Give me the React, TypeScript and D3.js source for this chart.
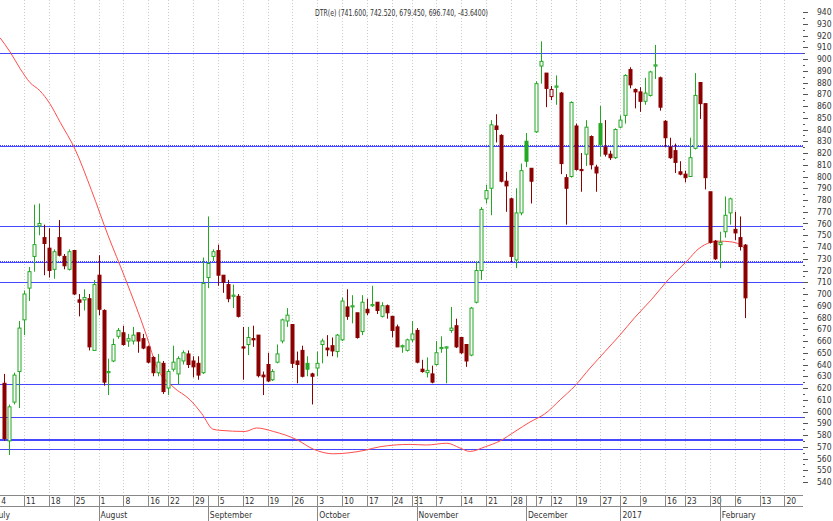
import React from "react";
import * as d3 from "d3";

// OHLC values, one per trading day (index 0 = first candle on the left)
const opens = [
  624, 575, 608, 634, 678, 705, 732, 758, 748, 739, 721, 748, 732, 721, 737, 695, 695, 696, 652, 716,
  686, 633, 643, 664, 667, 660, 660, 667, 662, 655, 646, 633, 641, 620, 636, 632, 643, 649, 643, 641,
  633, 714, 732, 737, 716, 708, 698, 698, 655, 657, 662, 665, 631, 640, 627, 642, 660, 677, 674, 643,
  652, 641, 632, 637, 657, 654, 656, 651, 661, 689, 689, 684, 668, 687, 690, 693, 681, 690, 681, 672,
  655, 652, 661, 669, 636, 633, 632, 640, 653.5, 654, 669, 673, 663, 657, 648, 693, 720, 781, 790, 843,
  835, 796, 781, 729, 769, 830, 807, 838, 894, 888, 868, 876, 871, 799, 800, 843, 806, 819, 834, 808,
  845, 825, 819, 816, 842, 852, 891, 874, 872, 864, 869, 894, 884, 847, 825, 822, 804, 802, 800, 824,
  880, 862, 787, 745, 742, 753, 769, 755, 748, 741.6,
];
const highs = [
  632, 606, 633, 677, 703, 723, 776, 777, 759, 756, 738, 763, 734, 738, 737, 700, 704, 700, 712, 733,
  687, 645, 662, 671, 673, 666, 672, 667, 666, 656, 647, 649, 643, 636, 656, 647, 652, 652, 647, 647,
  731, 766, 738, 742, 716, 712, 708, 700, 672, 672, 673, 665, 634, 650, 636, 657, 679, 688, 674, 651,
  656, 647, 633, 651, 662, 665, 663, 666, 697, 704, 699, 684, 699, 696, 707, 693, 693, 691, 681, 674,
  657, 662, 677, 671, 644, 646, 639, 660, 664, 655.5, 689, 679, 663, 657, 689, 728, 774, 793, 848, 853,
  836, 804, 782, 790, 811, 837, 807, 881, 915, 888, 877, 886, 872, 802, 864, 845, 820, 848, 835, 810,
  860, 848, 822, 841, 852, 887, 893, 875, 876, 884, 890, 912, 885, 848, 833, 828, 813, 805, 833, 888,
  880, 862, 787, 746, 753, 783, 782, 770, 766, 742.52,
];
const lows = [
  575, 563, 606, 603, 665, 694, 719, 750, 716, 714, 713, 732, 721, 720, 699, 681, 686, 652, 652, 682,
  622, 614, 642, 662, 656, 655, 657, 650, 653, 641, 630, 630, 615, 614, 634, 623, 640, 637, 629, 627,
  632, 705, 728, 707, 701, 693, 688, 680, 627, 648, 655, 629, 614, 625, 626, 641, 658, 672, 637, 624,
  629, 630, 606, 630, 641, 647, 647, 646, 660, 678, 675, 662, 665, 682, 689, 683, 680, 679, 663, 655,
  650, 651, 659, 641, 633, 629, 624, 639, 650, 624, 667, 654, 649, 638, 647, 692, 712, 777, 767, 829,
  795, 770, 727, 722, 767, 808, 777, 837, 879, 859, 865, 861, 802, 759, 799, 805, 787, 809, 806, 787,
  817, 817, 814, 815, 841, 845, 875, 858, 855, 861, 868, 883, 856, 825, 815, 803, 801, 795, 800, 823,
  849, 789, 743, 729, 722, 748, 759, 746, 737, 679.45,
];
const closes = [
  577, 604, 631, 671, 700, 719, 742, 760, 743, 720, 736, 733, 724, 736, 700, 693, 697, 655, 708, 687,
  625, 634, 657, 669, 657, 662, 665, 660, 654, 642, 633, 642, 617, 634, 642, 645, 650, 640, 638, 631,
  709, 726, 736, 716, 710, 696, 699, 681, 654, 663, 661, 630.5, 629.5, 626, 634, 649, 678, 682, 641, 640,
  630, 636, 630, 641, 660, 652.5, 651.5, 665, 694, 681, 690, 663, 693, 684, 691, 686, 690, 684, 669, 655,
  656, 661, 666, 642, 634, 635, 625, 650, 654.5, 655, 671, 655, 650, 643, 688, 720, 772, 788, 844, 840,
  796, 792, 732, 769, 805, 813, 796, 879, 898, 875, 874, 877, 811, 790, 863, 806, 805, 842, 810, 803,
  827, 819, 816, 840, 848, 886, 878, 872, 864, 871, 889, 895, 859, 833, 816, 812, 802, 799, 816, 869,
  862, 799, 744, 730, 744, 767, 781, 752, 740.38, 696.74,
];

// moving average (candle index, price)
const maIndex = [
  -0.8, 1.2, 3.2, 5.2, 7.2, 9.2, 11.3, 14.3, 17.6, 20.9, 24.3, 28.7, 30.7, 34, 37.4, 39.8, 42, 43.4, 48.5,
  50.8, 54.2, 58.9, 62.2, 66.2, 72.6, 75.6, 81.7, 85, 89.1, 91.7, 93.7, 96.8, 99.8, 102.8, 105.8, 108.8,
  111.9, 114.9, 117.9, 120.9, 123.9, 126.9, 130.2, 133.6, 137.6, 139.6, 142.2, 143.9, 146, 148.1, 149.1,
];
const maValue = [
  918, 906, 892, 880, 873, 862, 846, 823, 788, 750, 714, 664, 638, 621, 610, 598, 585, 584, 583,
  586, 583, 576, 568, 564, 567, 570, 572, 571.5, 573, 569, 566, 570, 575, 583, 591, 598,
  610, 622, 637, 651, 665, 680, 695, 712, 729, 738, 744, 745, 744.5, 742, 738,
];

// horizontal support / resistance levels
const solidLevels = [905, 758, 710, 623, 595, 568];
const thickLevels = [576];
const dottedLevels = [826, 727];

// weekly date ticks on the time axis
const dayTickIndex = [-1, 4, 9, 14, 19, 24, 29, 33, 38, 43, 48, 53, 58, 63, 68, 73, 78, 82, 87, 92, 97, 102,
  107, 110, 115, 120, 124, 128, 133, 137, 142, 147, 152, 157];
const dayTickLabel = ["4", "11", "18", "25", "1", "8", "16", "22", "29", "5", "12", "19", "26", "3", "10", "17",
  "24", "31", "7", "14", "21", "28", "7", "12", "19", "27", "2", "9", "16", "23", "30", "6", "13", "20"];
const monthTickIndex = [-2, 19, 41, 63, 83, 105, 124, 144];
const monthTickLabel = ["July", "August", "September", "October", "November", "December", "2017", "February"];

const title = "DTR(e) (741.600, 742.520, 679.450, 696.740, -43.6400)";

const W = 833;
const H = 521;
const plotRight = 803;
const axisTop = 495;
const axisMid = 506;
const font = "'Liberation Sans Narrow', 'DejaVu Sans Condensed', 'Arial Narrow', sans-serif";

const GREEN = "#22a822";
const RED = "#8b0000";
const BLUE = "#4646ff";

export default function App() {
  const x = d3.scaleLinear().domain([0, 149]).range([4.1, 4.1 + 149 * 4.97]);
  const y = d3.scaleLinear().domain([540, 940]).range([482, 12]);

  const maLine = d3
    .line<number>()
    .x((_, i) => x(maIndex[i]))
    .y((d) => y(d))
    .curve(d3.curveMonotoneX);

  const majorTicks = y.ticks(40);
  const minorTicks = d3.range(545, 940, 10);

  const candles = opens.map((o, i) => {
    const c = closes[i];
    const prev = i > 0 ? closes[i - 1] : o;
    const up = c >= prev;
    const hollow = c > o;
    const cx = Math.round(x(i)) + 0.5;
    const top = y(Math.max(o, c));
    const bot = y(Math.min(o, c));
    const color = up ? GREEN : RED;
    return { i, cx, top, bot, hi: y(highs[i]), lo: y(lows[i]), color, hollow };
  });

  return (
    <svg
      width={W}
      height={H}
      style={{ position: "absolute", left: 0, top: 0, background: "#fff" }}
      fontFamily={font}
    >
      <rect width={W} height={H} fill="#fff" />

      {/* vertical dotted grid at each week tick */}
      {dayTickIndex.map((d) => (
        <line
          key={"g" + d}
          x1={Math.round(x(d)) + 0.5}
          x2={Math.round(x(d)) + 0.5}
          y1={0}
          y2={axisTop}
          stroke="#cccccc"
          strokeDasharray="1,2"
        />
      ))}

      {/* levels */}
      {solidLevels.map((v) => (
        <line key={"s" + v} x1={0} x2={plotRight} y1={Math.round(y(v)) + 0.5} y2={Math.round(y(v)) + 0.5} stroke={BLUE} strokeWidth={1.2} />
      ))}
      {thickLevels.map((v) => (
        <line key={"t" + v} x1={0} x2={plotRight} y1={Math.round(y(v))} y2={Math.round(y(v))} stroke={BLUE} strokeWidth={2} />
      ))}
      {dottedLevels.map((v) => (
        <g key={"d" + v}>
          <line x1={0} x2={plotRight} y1={Math.round(y(v)) + 0.5} y2={Math.round(y(v)) + 0.5} stroke={BLUE} strokeWidth={1} />
          <line x1={0} x2={plotRight} y1={Math.round(y(v)) - 0.5} y2={Math.round(y(v)) - 0.5} stroke={BLUE} strokeWidth={1} strokeDasharray="1,1" />
        </g>
      ))}

      {/* moving average */}
      <path d={maLine(maValue) || ""} fill="none" stroke="#ff4d4d" strokeWidth={1} />

      {/* candles */}
      {candles.map((k) => (
        <g key={k.i}>
          <line x1={k.cx} x2={k.cx} y1={k.hi} y2={k.lo} stroke={k.color} strokeWidth={1} />
          <rect
            x={k.cx - 1.5}
            y={k.top}
            width={3}
            height={Math.max(1, k.bot - k.top)}
            fill={k.hollow ? "#fff" : k.color}
            stroke={k.color}
            strokeWidth={1}
          />
        </g>
      ))}

      {/* title */}
      <text x={315} y={16} fontSize={9.5} fill="#333" textLength={173} lengthAdjust="spacingAndGlyphs">
        {title}
      </text>

      {/* right price axis */}
      {minorTicks.map((v) => (
        <line key={"m" + v} x1={803} x2={805} y1={Math.round(y(v)) + 0.5} y2={Math.round(y(v)) + 0.5} stroke="#555" />
      ))}
      {majorTicks.map((v) => (
        <g key={"M" + v}>
          <line x1={803} x2={808} y1={Math.round(y(v)) + 0.5} y2={Math.round(y(v)) + 0.5} stroke="#555" />
          <text x={817} y={y(v) + 3} fontSize={8.5} fill="#333">
            {v}
          </text>
        </g>
      ))}

      {/* bottom time axis */}
      <line x1={0} x2={plotRight} y1={axisTop + 0.5} y2={axisTop + 0.5} stroke="#888" />
      <line x1={0} x2={plotRight} y1={axisMid + 0.5} y2={axisMid + 0.5} stroke="#888" />
      {dayTickIndex.map((d, i) => (
        <g key={"dt" + i}>
          <line x1={Math.round(x(d)) + 0.5} x2={Math.round(x(d)) + 0.5} y1={axisTop} y2={axisMid} stroke="#888" />
          <text x={x(d) + 2} y={504} fontSize={8.5} fill="#333">
            {dayTickLabel[i]}
          </text>
        </g>
      ))}
      {monthTickIndex.map((d, i) => (
        <g key={"mt" + i}>
          <line x1={Math.round(x(d)) + 0.5} x2={Math.round(x(d)) + 0.5} y1={axisTop} y2={H} stroke="#888" />
          <text x={x(d) + 2} y={518} fontSize={8.5} fill="#333">
            {monthTickLabel[i]}
          </text>
        </g>
      ))}
    </svg>
  );
}
